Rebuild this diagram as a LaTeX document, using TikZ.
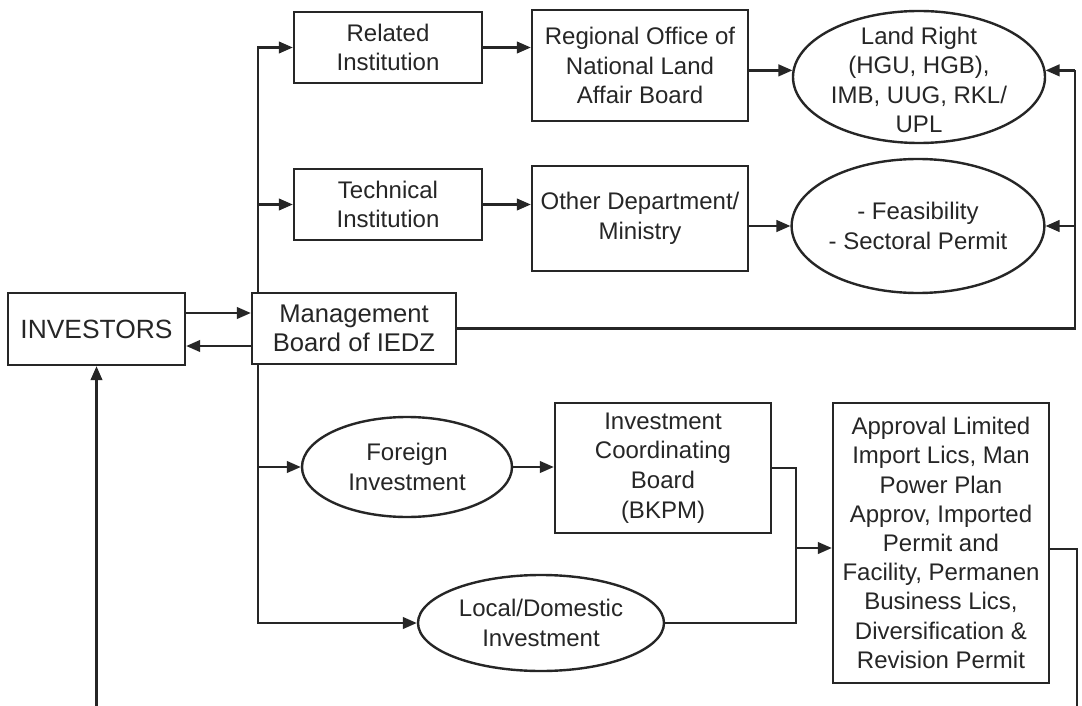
\documentclass[tikz,border=0pt]{standalone}
\usepackage{fontspec}
\setmainfont{Liberation Sans}
\usetikzlibrary{arrows.meta,shapes.geometric,calc}
\definecolor{ink}{HTML}{262626}
\tikzset{
  box/.style={draw=ink, line width=1.2pt, inner sep=0pt, align=center, text=ink,
    font=\fontsize{12}{14.8}\selectfont},
  ell/.style={draw=ink, ellipse, line width=1.2pt, inner sep=0pt, align=center, text=ink,
    font=\fontsize{12}{14.8}\selectfont},
  txt/.style={inner sep=0pt, align=center, text=ink, font=\fontsize{12}{14.8}\selectfont},
  conn/.style={draw=ink, line width=1.15pt},
  arr/.style={conn, -{Triangle[length=7pt,width=5.8pt]}},
}
\begin{document}
\begin{tikzpicture}[x=0.5pt,y=-0.5pt]
\useasboundingbox[fill=white] (0,0) rectangle (1082,706);
% nodes
\node[box, minimum width=88.5pt, minimum height=36pt, font=\fontsize{13.2}{15}\selectfont] (inv) at (96.5,329) {INVESTORS};
\node[box, minimum width=102pt, minimum height=35.5pt, font=\fontsize{12.8}{14.8}\selectfont] (mgmt) at (354,328.5) {Management\\Board of IEDZ};
\node[box, minimum width=94pt, minimum height=35.5pt] (rel) at (388,47.5) {Related\\Institution};
\node[box, minimum width=94pt, minimum height=35.5pt] (tech) at (388,204.5) {Technical\\Institution};
\node[box, minimum width=108pt, minimum height=55.5pt] (reg) at (640,65.5) {Regional Office of\\National Land\\Affair Board};
\node[box, minimum width=108pt, minimum height=52.5pt] (oth) at (640,218.5) {Other Department/\\Ministry};
\node[ell, minimum width=126pt, minimum height=66pt] (land) at (919,77) {};
\node[txt] (landtxt) at ($(land)+(0,3)$) {Land Right\\(HGU, HGB),\\IMB, UUG, RKL/\\UPL};
\node[ell, minimum width=125pt, minimum height=67pt] (feas) at (918,226) {- Feasibility\\- Sectoral Permit};
\node[ell, minimum width=105pt, minimum height=50pt] (for) at (407,467) {Foreign\\Investment};
\node[box, minimum width=108pt, minimum height=65pt] (bkpm) at (663,468) {Investment\\Coordinating\\Board\\(BKPM)};
\node[ell, minimum width=123pt, minimum height=48pt] (loc) at (541,623) {Local/Domestic\\Investment};
\node[box, minimum width=108pt, minimum height=140pt, font=\fontsize{12}{14.6}\selectfont] (appr) at (941,543) {Approval Limited\\Import Lics, Man\\Power Plan\\Approv, Imported\\Permit and\\Facility, Permanen\\Business Lics,\\Diversification \&\\Revision Permit};
% helper coordinates
\coordinate (busT) at ($(mgmt.north west)+(7,0)$);
\coordinate (busB) at ($(mgmt.south west)+(7,0)$);
\coordinate (rx) at (1075,0);
\coordinate (jx) at (796,0);
\coordinate (ja) at ($(appr.west)+(0,5)$);
\coordinate (binv) at (96.5,706);
\coordinate (bapp) at (1077,706);
% investors <-> management
\draw[arr] ($(inv.east)+(0,-16)$) -- ($(mgmt.west)+(0,-15.5)$);
\draw[arr] ($(mgmt.west)+(0,17.5)$) -- ($(inv.east)+(0,17)$);
% upper bus
\draw[arr] (busT) |- (rel.west);
\draw[arr] (busT |- tech.west) -- (tech.west);
\draw[arr] (rel.east) -- (rel.east -| reg.west);
\draw[arr] (tech.east) -- (tech.east -| oth.west);
\draw[arr] (reg.east |- land.177) -- (land.177);
\draw[arr] (oth.east |- feas.west) -- (feas.west);
% right return line
\draw[conn] (mgmt.east) -| (rx |- land.3);
\draw[arr] (rx |- land.3) -- (land.3);
\draw[arr] (rx |- feas.east) -- (feas.east);
% lower bus
\draw[arr] (busB) |- (loc.west);
\draw[arr] (busB |- for.west) -- (for.west);
\draw[arr] (for.east) -- (for.east -| bkpm.west);
\draw[conn] (bkpm.east) -| (jx |- loc.east) -- (loc.east);
\draw[arr] (jx |- ja) -- (ja);
% bottom lines
\draw[conn] ($(appr.east)+(0,6)$) -| (bapp);
\draw[arr] (binv) -- (inv.south);
\end{tikzpicture}
\end{document}
